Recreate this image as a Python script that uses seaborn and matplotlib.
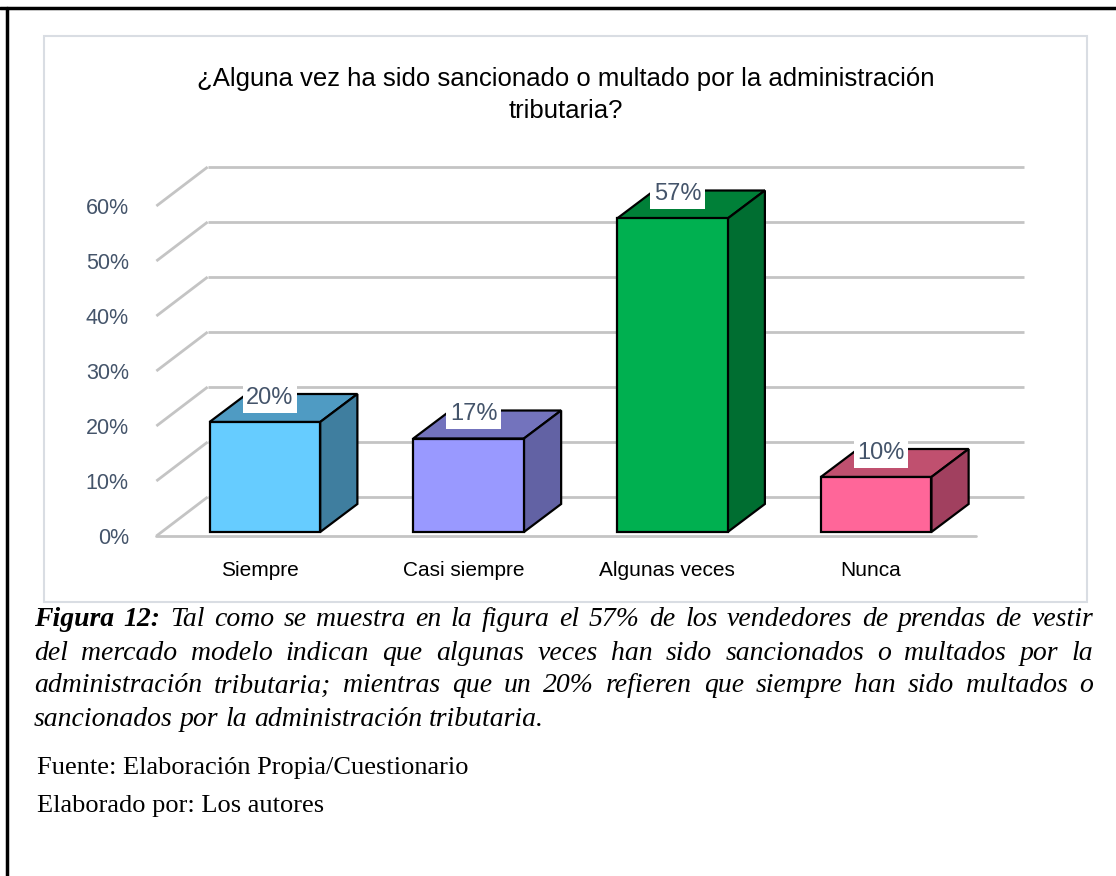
import numpy as np
import matplotlib
matplotlib.use("Agg")
import matplotlib.pyplot as plt
import matplotlib.transforms as mtransforms
from matplotlib.patches import Polygon, Rectangle
from matplotlib.lines import Line2D
import seaborn as sns

# ── DATA ─────────────────────────────────────────────────────────
categories = ["Siempre", "Casi siempre", "Algunas veces", "Nunca"]
values = [0.20, 0.17, 0.57, 0.10]
value_labels = ["20%", "17%", "57%", "10%"]
y_ticks = [0.0, 0.1, 0.2, 0.3, 0.4, 0.5, 0.6]
y_tick_labels = ["0%", "10%", "20%", "30%", "40%", "50%", "60%"]

front_colors = ["#66CCFF", "#9999FF", "#00B050", "#FF6699"]
top_colors = ["#4F9BC3", "#7373BD", "#008038", "#C0506F"]
side_colors = ["#3F7E9F", "#6262A4", "#006E31", "#A1405F"]

title = "¿Alguna vez ha sido sancionado o multado por la administración\ntributaria?"
caption_lines = [
    [("Figura 12:", "bold"), "Tal como se muestra en la figura el 57% de los vendedores de prendas de vestir"],
    ["del mercado modelo indican que algunas veces han sido sancionados o multados por la"],
    ["administración tributaria; mientras que un 20% refieren que siempre han sido multados o"],
    ["sancionados por la administración tributaria."],
]
source_lines = ["Fuente: Elaboración Propia/Cuestionario", "Elaborado por: Los autores"]

# ── FIGURE ───────────────────────────────────────────────────────
W, H = 1116, 876
sns.set_theme(style="white")
plt.rcParams["font.family"] = ["Liberation Sans", "DejaVu Sans"]
fig = plt.figure(figsize=(W / 100, H / 100), dpi=100)


def fx(px):
    return px / W


def fy(py):
    return 1 - py / H


# page border (top + left) and chart frame
fig.add_artist(Line2D([0, 1], [fy(8), fy(8)], color="black", lw=2.5))
fig.add_artist(Line2D([fx(6.5), fx(6.5)], [0, fy(8)], color="black", lw=2.5))
fig.add_artist(Rectangle((fx(44), fy(602)), fx(1087 - 44), (602 - 36) / H,
                         fill=False, ec="#D9DDE3", lw=1.5))

# front plane of the 3D plot
ax = fig.add_axes([fx(158), fy(536), fx(973 - 158), (536 - 206) / H])
ax.set_facecolor("none")
xlim = (-0.508, 3.513)
ax.set_xlim(*xlim)
ax.set_ylim(0, 0.6)
ppx = (973 - 158) / (xlim[1] - xlim[0])
ppy = (536 - 206) / 0.6

# back wall gridlines with diagonal side wall
wdx, wdy = 51 / ppx, 39 / ppy
x_back_end = xlim[0] + (1021 - 158) / ppx
for t in y_ticks:
    ax.plot([xlim[0], xlim[0] + wdx], [t, t + wdy], color="#C4C4C4", lw=2,
            clip_on=False, zorder=0, solid_capstyle="butt")
    ax.plot([xlim[0] + wdx, x_back_end], [t + wdy, t + wdy], color="#C4C4C4", lw=2,
            clip_on=False, zorder=0, solid_capstyle="butt")
ax.plot([xlim[0], xlim[1]], [0, 0], color="#C4C4C4", lw=2, clip_on=False, zorder=0)

# bars (front faces)
sns.barplot(x=categories, y=values, hue=categories, palette=front_colors, width=0.543,
            saturation=1, errorbar=None, legend=False, edgecolor="black", linewidth=1.6,
            ax=ax, zorder=3)

shift = ax.transData + mtransforms.ScaledTranslation(5 / 100, 4 / 100, fig.dpi_scale_trans)
ddx, ddy = 37 / ppx, 28 / ppy
for p, top_c, side_c in zip(ax.patches, top_colors, side_colors):
    p.set_transform(shift)
    p.set_clip_on(False)
    x0, w, h = p.get_x(), p.get_width(), p.get_height()
    x1 = x0 + w
    top = Polygon([(x0, h), (x1, h), (x1 + ddx, h + ddy), (x0 + ddx, h + ddy)],
                  closed=True, fc=top_c, ec="black", lw=1.6, transform=shift,
                  clip_on=False, zorder=2, joinstyle="miter")
    side = Polygon([(x1, 0), (x1 + ddx, ddy), (x1 + ddx, h + ddy), (x1, h)],
                   closed=True, fc=side_c, ec="black", lw=1.6, transform=shift,
                   clip_on=False, zorder=2, joinstyle="miter")
    ax.add_patch(top)
    ax.add_patch(side)

# value labels
lab_tr = ax.transData + mtransforms.ScaledTranslation(10 / 100, 0, fig.dpi_scale_trans)
for p, lab in zip(ax.patches[:len(values)], value_labels):
    xc = p.get_x() + p.get_width() / 2
    ax.text(xc, p.get_height() + ddy, lab, transform=lab_tr, ha="center", va="center",
            fontsize=17, color="#44546A", zorder=5, clip_on=False,
            bbox=dict(boxstyle="square,pad=0.15", fc="white", ec="none"))

ax.set_yticks(y_ticks)
ax.set_yticklabels(y_tick_labels)
ax.set_xticks(range(len(categories)))
ax.set_xticklabels(categories)
ax.tick_params(axis="y", length=0, pad=21, labelsize=15.5, labelcolor="#44546A")
ax.tick_params(axis="x", length=0, pad=18, labelsize=15, labelcolor="black")
ax.set_xlabel("")
ax.set_ylabel("")
sns.despine(ax=ax, left=True, bottom=True)

fig.text(fx(566), fy(95), title, ha="center", va="center", fontsize=18.5,
         color="black", linespacing=1.45)

# ── CAPTION (justified) ──────────────────────────────────────────
renderer = fig.canvas.get_renderer()
cap_size = 20
cap_y = [620, 653, 686, 719]
x_left, x_right = 34, 1093
for i, (parts, y) in enumerate(zip(caption_lines, cap_y)):
    tokens = []
    for part in parts:
        if isinstance(part, tuple):
            tokens += [(wd, part[1]) for wd in part[0].split()]
        else:
            tokens += [(wd, "normal") for wd in part.split()]
    texts = [fig.text(0, fy(y), wd, fontsize=cap_size, family="Liberation Serif",
                      style="italic", weight=wt, va="center", ha="left", color="black")
             for wd, wt in tokens]
    widths = [t.get_window_extent(renderer).width for t in texts]
    if i < len(caption_lines) - 1:
        gap = (x_right - x_left - sum(widths)) / (len(texts) - 1)
    else:
        gap = 0.25 * cap_size * 100 / 72
    x = x_left
    for t, wd in zip(texts, widths):
        t.set_x(fx(x))
        x += wd + gap

for line, y in zip(source_lines, [768, 806]):
    fig.text(fx(37), fy(y), line, fontsize=19, family="Liberation Serif",
             va="center", ha="left", color="black")

plt.savefig("out.png", dpi=100)
